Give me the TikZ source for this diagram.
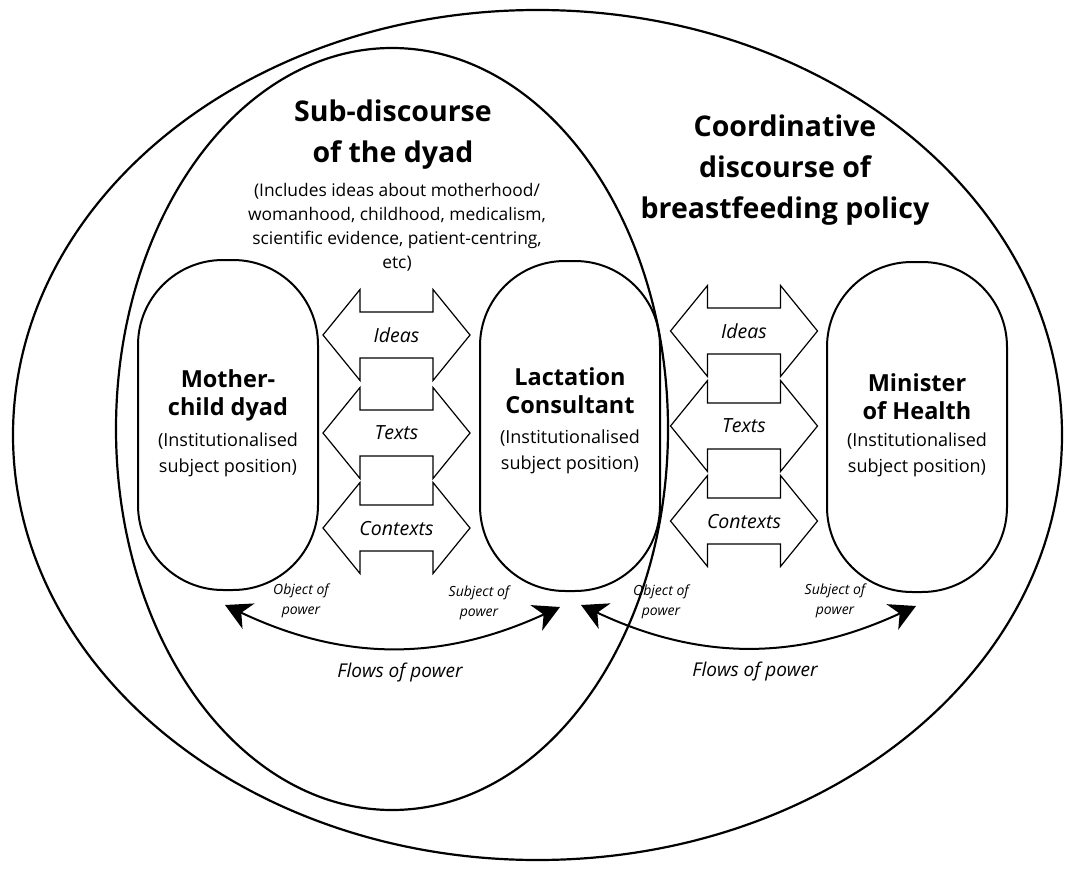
\documentclass[tikz,border=0pt]{standalone}
\usepackage{fontspec}
\setmainfont{Open Sans}
\usetikzlibrary{arrows.meta}
\begin{document}
\begin{tikzpicture}[x=1pt,y=-1pt,
  ring/.style={draw, line width=2.2pt},
  pill/.style={draw, line width=2pt, rectangle, rounded corners=85pt,
    minimum width=180pt, minimum height=330pt, inner sep=0pt},
  bigtitle/.style={align=center, inner sep=0pt, font=\bfseries\fontsize{28.5}{41}\selectfont},
  note/.style={align=center, inner sep=0pt, font=\fontsize{17.4}{24}\selectfont},
  pilltitle/.style={align=center, inner sep=0pt, font=\bfseries\fontsize{23.5}{28}\selectfont},
  pillsub/.style={align=center, inner sep=0pt, font=\fontsize{18}{26}\selectfont},
  flowlabel/.style={inner sep=0pt, font=\itshape\fontsize{19.5}{22}\selectfont},
  powerlabel/.style={align=center, inner sep=0pt, font=\itshape\fontsize{14}{20}\selectfont},
  flowsof/.style={inner sep=0pt, font=\itshape\fontsize{19}{22}\selectfont},
  powerarrow/.style={line width=2pt,
    {Stealth[length=26pt,width=28pt,inset=8pt]}-{Stealth[length=26pt,width=28pt,inset=8pt]}},
  exchange/.pic={
    \draw[line width=1.2pt, line join=miter]
      (-73.5,0) -- (-36.5,-45.5) -- (-36.5,-23) -- (36.5,-23) -- (36.5,-45.5)
      -- (73.5,0) -- (36.5,45.5) -- (36.5,23) -- (-36.5,23) -- (-36.5,45.5) -- cycle;
  }
]
\useasboundingbox (0,0) rectangle (1065,869);

% discourse rings
\draw[ring] (537.5,435) ellipse [x radius=524.5, y radius=425];
\draw[ring] (392,429) ellipse [x radius=276, y radius=381];

% headings
\node[bigtitle] (subT) at (393,135) {Sub-discourse\\of the dyad};
\node[note] (subN) at (397,227) {(Includes ideas about motherhood/\\womanhood, childhood, medicalism,\\scientific evidence, patient-centring,\\etc)};
\node[bigtitle] (coordT) at (785,170) {Coordinative\\discourse of\\breastfeeding policy};

% subject positions
\node[pill] (mcd) at (228,425) {};
\node[pill] (lc) at (570,426) {};
\node[pill] (moh) at (917,427) {};

\node[pilltitle] (mcdT) at (228,395) {Mother-\\child dyad};
\node[pillsub] (mcdS) at (228,455) {(Institutionalised\\subject position)};
\node[pilltitle] (lcT) at (570,391) {Lactation\\Consultant};
\node[pillsub] (lcS) at (570,452) {(Institutionalised\\subject position)};
\node[pilltitle] (mohT) at (917,397) {Minister\\of Health};
\node[pillsub] (mohS) at (917,455) {(Institutionalised\\subject position)};

% exchanges between positions
\pic at (396.5,335) {exchange};
\pic at (396.5,433) {exchange};
\pic at (396.5,528) {exchange};
\node[flowlabel] (ideasA) at (396.5,335) {Ideas};
\node[flowlabel] (textsA) at (396.5,433) {Texts};
\node[flowlabel] (contextsA) at (396.5,529) {Contexts};

\pic at (744,331) {exchange};
\pic at (744,426) {exchange};
\pic at (744,521) {exchange};
\node[flowlabel] (ideasB) at (744,331) {Ideas};
\node[flowlabel] (textsB) at (744,426) {Texts};
\node[flowlabel] (contextsB) at (744,522) {Contexts};

% flows of power
\coordinate (pA1) at (225,605);
\coordinate (pA2) at (560,607);
\coordinate (pB1) at (581,605);
\coordinate (pB2) at (916,606);
\draw[powerarrow] (pA1) to[bend right=25] (pA2);
\draw[powerarrow] (pB1) to[bend right=25] (pB2);

\node[powerlabel] (objA) at (301,601) {Object of\\power};
\node[powerlabel] (subjA) at (479,603) {Subject of\\power};
\node[powerlabel] (objB) at (661,602) {Object of\\power};
\node[powerlabel] (subjB) at (835,601) {Subject of\\power};

\node[flowsof] (flowA) at (400,673) {Flows of power};
\node[flowsof] (flowB) at (755,672) {Flows of power};
\end{tikzpicture}
\end{document}
